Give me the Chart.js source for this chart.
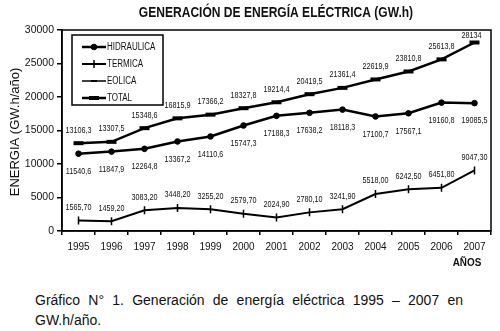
<!DOCTYPE html>
<html>
<head>
<meta charset="utf-8">
<script src="https://cdn.jsdelivr.net/npm/chart.js@4"></script>
<style>
  body { margin: 0; background: #fff; }
  #wrap { position: relative; width: 500px; height: 331px; }
  .cap {
    position: absolute; left: 35px; width: 428px;
    font-family: "Liberation Sans", Arial, sans-serif; font-size: 14px;
    line-height: 18px; color: #111; white-space: nowrap;
  }
  #cap1 { top: 291px; text-align: justify; text-align-last: justify; white-space: normal; }
  #cap2 { top: 311px; }
</style>
</head>
<body>
<div id="wrap">
  <canvas id="energyChart" width="500" height="275"></canvas>
  <div class="cap" id="cap1">Gráfico N° 1. Generación de energía eléctrica 1995 – 2007 en</div>
  <div class="cap" id="cap2">GW.h/año.</div>
</div>
<script>
const years = ['1995', '1996', '1997', '1998', '1999', '2000', '2001', '2002', '2003', '2004', '2005', '2006', '2007'];
const hidraulica = [11540.6, 11847.9, 12264.8, 13367.2, 14110.6, 15747.3, 17188.3, 17638.2, 18118.3, 17100.7, 17567.1, 19160.8, 19085.5];
const termica = [1565.7, 1459.2, 3083.2, 3448.2, 3255.2, 2579.7, 2024.9, 2780.1, 3241.9, 5518.0, 6242.5, 6451.8, 9047.3];
const eolica = [0, 0.4, 0.6, 0.5, 0.4, 0.8, 1.2, 1.2, 1.2, 1.2, 1.2, 1.2, 1.2];
const total = [13106.3, 13307.5, 15348.6, 16815.9, 17366.2, 18327.8, 19214.4, 20419.5, 21361.4, 22619.9, 23810.8, 25613.8, 28134];

const sans = '"Liberation Sans", Arial, sans-serif';

// format numbers with decimal comma like the original
function fmt(v, decimals) {
  if (Number.isInteger(v) && decimals === 1) return String(v);
  return v.toFixed(decimals).replace('.', ',');
}

// draw text squeezed horizontally (the original uses a narrow font)
function narrowText(ctx, text, x, y, sx) {
  ctx.save();
  ctx.translate(x, y);
  ctx.scale(sx, 1);
  ctx.fillText(text, 0, 0);
  ctx.restore();
}

// value labels, border box, legend and titles
const decorations = {
  id: 'decorations',
  afterDatasetsDraw(chart) {
    const ctx = chart.ctx;
    const area = chart.chartArea;
    ctx.save();

    // frame around the plot
    ctx.strokeStyle = '#000';
    ctx.lineWidth = 1.5;
    ctx.strokeRect(area.left, area.top, area.right - area.left, area.bottom - area.top);

    // data labels
    ctx.fillStyle = '#111';
    ctx.font = '8.5px ' + sans;
    ctx.textAlign = 'center';
    ctx.textBaseline = 'middle';
    const labelSets = [
      { idx: 0, dy: 18, dec: 1 },   // hidraulica below
      { idx: 1, dy: -13, dec: 2 },  // termica above
      { idx: 3, dy: -13, dec: 1 }   // total above
    ];
    labelSets.forEach(s => {
      const meta = chart.getDatasetMeta(s.idx);
      const values = chart.data.datasets[s.idx].data;
      meta.data.forEach((pt, i) => {
        const y = Math.max(pt.y + s.dy, area.top + 6);
        narrowText(ctx, fmt(values[i], s.dec), pt.x - (y > pt.y + s.dy ? 3 : 0), y, 0.85);
      });
    });

    // legend box
    const lx = 72, ly = 35, lw = 91, lh = 70;
    ctx.fillStyle = '#fff';
    ctx.fillRect(lx, ly, lw, lh);
    ctx.strokeStyle = '#000';
    ctx.lineWidth = 1.5;
    ctx.strokeRect(lx, ly, lw, lh);
    const rows = [47, 64, 81, 98];
    chart.data.datasets.forEach((ds, i) => {
      const y = rows[i];
      ctx.strokeStyle = '#000';
      ctx.fillStyle = '#000';
      ctx.lineWidth = ds.borderWidth;
      ctx.beginPath();
      ctx.moveTo(82, y);
      ctx.lineTo(106, y);
      ctx.stroke();
      ctx.lineWidth = ds.pointBorderWidth;
      Chart.helpers.drawPoint(ctx, {
        pointStyle: ds.pointStyle, radius: ds.pointRadius, rotation: ds.pointRotation || 0,
        borderWidth: ds.pointBorderWidth
      }, 94, y);
      ctx.fillStyle = '#111';
      ctx.font = '10px ' + sans;
      ctx.textAlign = 'left';
      ctx.textBaseline = 'middle';
      narrowText(ctx, ds.label, 107, y + 0.5, 0.8);
    });

    // chart title
    ctx.fillStyle = '#111';
    ctx.font = 'bold 14px ' + sans;
    ctx.textAlign = 'center';
    ctx.textBaseline = 'middle';
    narrowText(ctx, 'GENERACIÓN DE ENERGÍA ELÉCTRICA (GW.h)', 276, 13, 0.86);

    // x axis title
    ctx.font = 'bold 11px ' + sans;
    narrowText(ctx, 'AÑOS', 467, 263, 0.9);

    // y axis title
    ctx.translate(15, 132);
    ctx.rotate(-Math.PI / 2);
    ctx.font = '13px ' + sans;
    ctx.fillText('ENERGIA (GW.h/año)', 0, 0);
    ctx.restore();
  }
};

const ctx = document.getElementById('energyChart').getContext('2d');
new Chart(ctx, {
  type: 'line',
  data: {
    labels: years,
    datasets: [
      {
        label: 'HIDRAULICA', data: hidraulica,
        borderColor: '#000', backgroundColor: '#000', borderWidth: 2.5,
        pointStyle: 'circle', pointRadius: 2.8, pointBorderWidth: 1,
        pointBackgroundColor: '#000', pointBorderColor: '#000'
      },
      {
        label: 'TERMICA', data: termica,
        borderColor: '#000', backgroundColor: '#000', borderWidth: 2,
        pointStyle: 'line', pointRotation: 90, pointRadius: 4, pointBorderWidth: 1.5,
        pointBorderColor: '#000'
      },
      {
        label: 'EOLICA', data: eolica,
        borderColor: '#000', backgroundColor: '#000', borderWidth: 1.5,
        pointStyle: 'line', pointRadius: 3, pointBorderWidth: 2,
        pointBorderColor: '#000'
      },
      {
        label: 'TOTAL', data: total,
        borderColor: '#000', backgroundColor: '#000', borderWidth: 2.5,
        pointStyle: 'line', pointRadius: 5, pointBorderWidth: 4,
        pointBorderColor: '#000'
      }
    ]
  },
  options: {
    responsive: false,
    animation: false,
    layout: { padding: { top: 30, right: 5, left: 0, bottom: 0 } },
    plugins: {
      legend: { display: false },
      title: { display: false },
      tooltip: { enabled: false }
    },
    scales: {
      x: {
        offset: true,
        grid: { offset: true, drawOnChartArea: false, drawTicks: true, tickLength: 4, color: '#000', lineWidth: 1.5 },
        border: { display: true, color: '#000', width: 1.5 },
        ticks: { color: '#111', font: { family: sans, size: 10 }, padding: 6, maxRotation: 0, autoSkip: false },
        afterFit(scale) { scale.height = 44; }
      },
      y: {
        min: 0, max: 30000,
        grid: { drawOnChartArea: false, drawTicks: true, tickLength: 5, color: '#000', lineWidth: 1.5 },
        border: { display: true, color: '#000', width: 1.5 },
        ticks: {
          stepSize: 5000, color: '#111', font: { family: sans, size: 10.5 }, padding: 3,
          callback: v => String(v)
        },
        afterFit(scale) { scale.width = 62; }
      }
    }
  },
  plugins: [decorations]
});
</script>
</body>
</html>
